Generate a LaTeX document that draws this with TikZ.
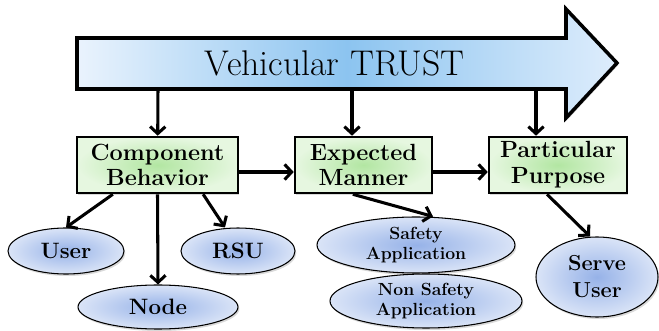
\documentclass[tikz,border=0pt]{standalone}
\usepackage{amsmath}
\usepackage{tikz}
\usetikzlibrary{calc}
\usetikzlibrary{arrows.meta}
\usetikzlibrary{shapes,shadows}

\definecolor{arrowleft}{RGB}{234,243,253}
\definecolor{arrowmid}{RGB}{140,196,240}
\definecolor{arrowright}{RGB}{222,237,252}
\definecolor{boxin}{RGB}{178,230,162}
\definecolor{boxout}{RGB}{230,247,224}
\definecolor{ovalin}{RGB}{150,178,232}
\definecolor{ovalout}{RGB}{218,228,247}

\begin{document}
\begin{tikzpicture}[
    box/.style={draw, rectangle, line width=2.2pt, minimum height=1.68cm,
      inner color=boxin, outer color=boxout, align=center,
      font=\fontsize{20}{22}\selectfont\bfseries,
      drop shadow={opacity=0.3, shadow xshift=0.04cm, shadow yshift=-0.06cm}},
    bubble/.style={draw, ellipse, line width=0.9pt, inner sep=0pt,
      inner color=ovalin, outer color=ovalout, align=center,
      font=\fontsize{19}{21}\selectfont\bfseries,
      drop shadow={opacity=0.3, shadow xshift=0.04cm, shadow yshift=-0.06cm}},
    small/.style={font=\fontsize{15}{17}\selectfont\bfseries},
    flow/.style={line width=2.6pt, -{Straight Barb[length=6pt,width=13pt]}}
  ]
    \useasboundingbox (0,0) rectangle (19.77,9.93);

    \draw[line width=3pt, left color=arrowleft, right color=arrowright, middle color=arrowmid,
      drop shadow={opacity=0.3, shadow xshift=0.04cm, shadow yshift=-0.06cm}]
      (2.31,8.79) -- (16.98,8.79) -- (16.98,9.66) -- (18.51,8.04)
      -- (16.98,6.39) -- (16.98,7.26) -- (2.31,7.26) -- cycle;
    \node[font=\fontsize{30.5}{33}\selectfont] (trust) at (10.04,8.04) {Vehicular TRUST};
    \coordinate (t1) at (4.74,7.26);
    \coordinate (t2) at (10.56,7.26);
    \coordinate (t3) at (16.08,7.26);

    \node[box, minimum width=4.83cm] (cb) at (4.725,4.98) {Component\\Behavior};
    \node[box, minimum width=4.11cm] (em) at (10.905,4.98) {Expected\\Manner};
    \node[box, minimum width=4.14cm] (pp) at (16.74,4.98) {Particular\\Purpose};

    \node[bubble, minimum width=3.48cm, minimum height=1.38cm] (user) at (1.98,2.40) {User};
    \node[bubble, minimum width=4.8cm, minimum height=1.32cm] (nodes) at (4.74,0.72) {Node};
    \node[bubble, minimum width=3.42cm, minimum height=1.38cm] (rsu) at (7.14,2.40) {RSU};
    \node[bubble, small, minimum width=5.94cm, minimum height=1.68cm] (safe) at (12.48,2.58) {Safety\\Application};
    \node[bubble, small, minimum width=5.76cm, minimum height=1.62cm] (nonsafe) at (12.78,0.90) {Non Safety\\Application};
    \node[bubble, font=\fontsize{18.5}{23}\selectfont\bfseries, minimum width=3.66cm, minimum height=2.4cm] (serve) at (17.91,1.62) {Serve\\User};

    \draw[flow] (t1) -- (cb);
    \draw[flow] (t2) -- (t2 |- em.north);
    \draw[flow] (t3) -- (t3 |- pp.north);
    \draw[flow] ([yshift=-0.21cm]cb.east) -- ([yshift=-0.21cm]em.west);
    \draw[flow] ([yshift=-0.21cm]em.east) -- ([yshift=-0.21cm]pp.west);
    \draw[flow] ([xshift=-1.34cm]cb.south) -- (user.north);
    \draw[flow] (cb.south) -- (nodes.north);
    \draw[flow] ([xshift=1.37cm]cb.south) -- ([xshift=-0.39cm]rsu.north);
    \draw[flow] ([xshift=-0.32cm]em.south) -- ([xshift=0.51cm]safe.north);
    \draw[flow] ([xshift=-0.33cm]pp.south) -- ([xshift=-0.21cm]serve.north);
  \end{tikzpicture}
\end{document}
